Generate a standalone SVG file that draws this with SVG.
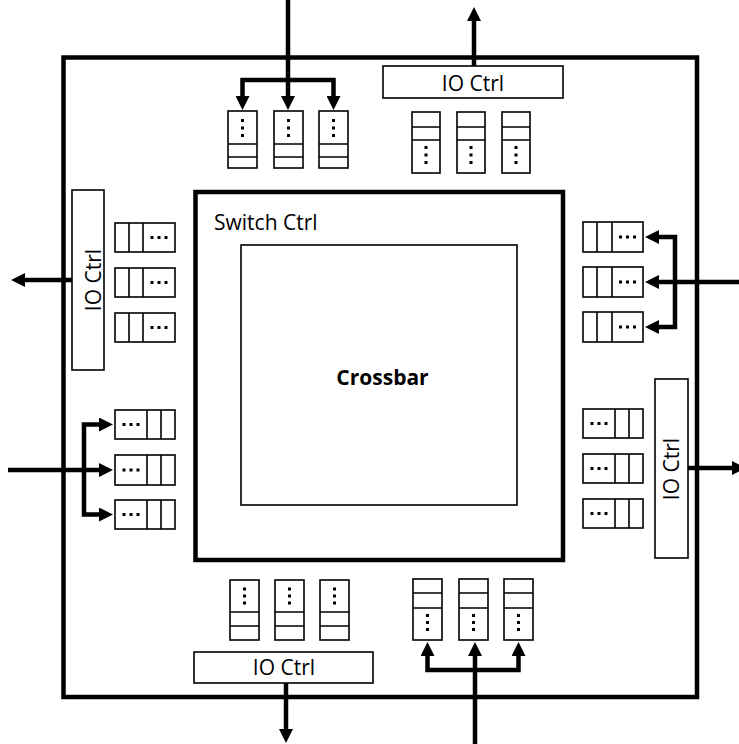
<svg xmlns="http://www.w3.org/2000/svg" width="739" height="744" viewBox="0 0 739 744">
<style>
.frame{fill:none;stroke:#000;stroke-width:4.5}
.box{fill:#fff;stroke:#000;stroke-width:1.6}
.cell{stroke:#000;stroke-width:1.6}
.dot{fill:#000}
.wire{fill:none;stroke:#000;stroke-width:4.5;stroke-linejoin:miter;marker-end:url(#ah)}
.lbl{font-family:"Open Sans","Noto Sans",sans-serif;font-size:21px;fill:#000}
.bold{font-family:"Open Sans","Noto Sans",sans-serif;font-size:21px;font-weight:bold;fill:#000}
</style>
<defs>
<marker id="ah" markerUnits="userSpaceOnUse" viewBox="0 0 14 14" refX="5" refY="7" markerWidth="14" markerHeight="14" orient="auto">
<path d="M0,0 L14,7 L0,14 z" fill="#000"/>
</marker>
</defs>
<rect width="739" height="744" fill="#fff"/>
<g id="chip"><rect class="frame" x="63.5" y="57.5" width="633.5" height="639.5"/></g>
<g id="switch-ctrl">
<rect class="frame" x="195.5" y="192" width="367.5" height="368"/>
<text class="lbl" x="214" y="230">Switch Ctrl</text>
</g>
<g id="crossbar">
<rect class="box" x="241" y="245" width="276" height="260" fill="none"/>
<text class="bold" x="382.5" y="385" text-anchor="middle">Crossbar</text>
</g>
<g id="io-top"><rect class="box" x="383" y="66" width="180" height="32"/><text class="lbl" x="473" y="90.5" text-anchor="middle">IO Ctrl</text></g>
<g id="io-bottom"><rect class="box" x="194" y="652" width="179" height="31"/><text class="lbl" x="284" y="675" text-anchor="middle">IO Ctrl</text></g>
<g id="io-left"><rect class="box" x="72" y="190" width="32" height="180"/><text class="lbl" transform="translate(101,280) rotate(-90)" text-anchor="middle">IO Ctrl</text></g>
<g id="io-right"><rect class="box" x="655" y="379" width="33" height="179"/><text class="lbl" transform="translate(679,469) rotate(-90)" text-anchor="middle">IO Ctrl</text></g>

<!-- top-left buffers -->
<g id="buf-tl-1"><rect class="box" x="228" y="111" width="29" height="57"/><path class="cell" d="M228,144H257M228,157H257"/><g class="dot"><rect x="241" y="119" width="3" height="3"/><rect x="241" y="126.5" width="3" height="3"/><rect x="241" y="134" width="3" height="3"/></g></g>
<g id="buf-tl-2"><rect class="box" x="274" y="111" width="29" height="57"/><path class="cell" d="M274,144H303M274,157H303"/><g class="dot"><rect x="287" y="119" width="3" height="3"/><rect x="287" y="126.5" width="3" height="3"/><rect x="287" y="134" width="3" height="3"/></g></g>
<g id="buf-tl-3"><rect class="box" x="319" y="111" width="29" height="57"/><path class="cell" d="M319,144H348M319,157H348"/><g class="dot"><rect x="332" y="119" width="3" height="3"/><rect x="332" y="126.5" width="3" height="3"/><rect x="332" y="134" width="3" height="3"/></g></g>

<!-- top-right buffers -->
<g id="buf-tr-1"><rect class="box" x="412" y="112" width="28" height="61"/><path class="cell" d="M412,127H440M412,140H440"/><g class="dot"><rect x="424.5" y="146" width="3" height="3"/><rect x="424.5" y="153.5" width="3" height="3"/><rect x="424.5" y="161" width="3" height="3"/></g></g>
<g id="buf-tr-2"><rect class="box" x="457" y="112" width="28" height="61"/><path class="cell" d="M457,127H485M457,140H485"/><g class="dot"><rect x="469.5" y="146" width="3" height="3"/><rect x="469.5" y="153.5" width="3" height="3"/><rect x="469.5" y="161" width="3" height="3"/></g></g>
<g id="buf-tr-3"><rect class="box" x="502" y="112" width="28" height="61"/><path class="cell" d="M502,127H530M502,140H530"/><g class="dot"><rect x="514.5" y="146" width="3" height="3"/><rect x="514.5" y="153.5" width="3" height="3"/><rect x="514.5" y="161" width="3" height="3"/></g></g>

<!-- bottom-left buffers -->
<g id="buf-bl-1"><rect class="box" x="230" y="580" width="29" height="60"/><path class="cell" d="M230,612H259M230,626H259"/><g class="dot"><rect x="243" y="587.5" width="3" height="3"/><rect x="243" y="594.5" width="3" height="3"/><rect x="243" y="601.5" width="3" height="3"/></g></g>
<g id="buf-bl-2"><rect class="box" x="275" y="580" width="29" height="60"/><path class="cell" d="M275,612H304M275,626H304"/><g class="dot"><rect x="288" y="587.5" width="3" height="3"/><rect x="288" y="594.5" width="3" height="3"/><rect x="288" y="601.5" width="3" height="3"/></g></g>
<g id="buf-bl-3"><rect class="box" x="320" y="580" width="29" height="60"/><path class="cell" d="M320,612H349M320,626H349"/><g class="dot"><rect x="333" y="587.5" width="3" height="3"/><rect x="333" y="594.5" width="3" height="3"/><rect x="333" y="601.5" width="3" height="3"/></g></g>

<!-- bottom-right buffers -->
<g id="buf-br-1"><rect class="box" x="413" y="579" width="29" height="61"/><path class="cell" d="M413,593H442M413,608H442"/><g class="dot"><rect x="426" y="614" width="3" height="3"/><rect x="426" y="621" width="3" height="3"/><rect x="426" y="628" width="3" height="3"/></g></g>
<g id="buf-br-2"><rect class="box" x="459" y="579" width="29" height="61"/><path class="cell" d="M459,593H488M459,608H488"/><g class="dot"><rect x="472" y="614" width="3" height="3"/><rect x="472" y="621" width="3" height="3"/><rect x="472" y="628" width="3" height="3"/></g></g>
<g id="buf-br-3"><rect class="box" x="504" y="579" width="29" height="61"/><path class="cell" d="M504,593H533M504,608H533"/><g class="dot"><rect x="517" y="614" width="3" height="3"/><rect x="517" y="621" width="3" height="3"/><rect x="517" y="628" width="3" height="3"/></g></g>

<!-- left upper buffers (dots right) -->
<g id="buf-lu-1"><rect class="box" x="115" y="223" width="60" height="29"/><path class="cell" d="M129,223V252M143,223V252"/><g class="dot"><rect x="150.5" y="236" width="3" height="3"/><rect x="157.5" y="236" width="3" height="3"/><rect x="164.5" y="236" width="3" height="3"/></g></g>
<g id="buf-lu-2"><rect class="box" x="115" y="268" width="60" height="29"/><path class="cell" d="M129,268V297M143,268V297"/><g class="dot"><rect x="150.5" y="281" width="3" height="3"/><rect x="157.5" y="281" width="3" height="3"/><rect x="164.5" y="281" width="3" height="3"/></g></g>
<g id="buf-lu-3"><rect class="box" x="115" y="313" width="60" height="29"/><path class="cell" d="M129,313V342M143,313V342"/><g class="dot"><rect x="150.5" y="326" width="3" height="3"/><rect x="157.5" y="326" width="3" height="3"/><rect x="164.5" y="326" width="3" height="3"/></g></g>

<!-- left lower buffers (dots left) -->
<g id="buf-ll-1"><rect class="box" x="115" y="410" width="60" height="29"/><path class="cell" d="M147,410V439M161,410V439"/><g class="dot"><rect x="122.5" y="423" width="3" height="3"/><rect x="129.5" y="423" width="3" height="3"/><rect x="136.5" y="423" width="3" height="3"/></g></g>
<g id="buf-ll-2"><rect class="box" x="115" y="455" width="60" height="30"/><path class="cell" d="M147,455V485M161,455V485"/><g class="dot"><rect x="122.5" y="468.5" width="3" height="3"/><rect x="129.5" y="468.5" width="3" height="3"/><rect x="136.5" y="468.5" width="3" height="3"/></g></g>
<g id="buf-ll-3"><rect class="box" x="115" y="500" width="60" height="29"/><path class="cell" d="M147,500V529M161,500V529"/><g class="dot"><rect x="122.5" y="513" width="3" height="3"/><rect x="129.5" y="513" width="3" height="3"/><rect x="136.5" y="513" width="3" height="3"/></g></g>

<!-- right upper buffers (dots right) -->
<g id="buf-ru-1"><rect class="box" x="583" y="222" width="60" height="30"/><path class="cell" d="M597,222V252M612,222V252"/><g class="dot"><rect x="619" y="235.5" width="3" height="3"/><rect x="626" y="235.5" width="3" height="3"/><rect x="633" y="235.5" width="3" height="3"/></g></g>
<g id="buf-ru-2"><rect class="box" x="583" y="267" width="60" height="30"/><path class="cell" d="M597,267V297M612,267V297"/><g class="dot"><rect x="619" y="280.5" width="3" height="3"/><rect x="626" y="280.5" width="3" height="3"/><rect x="633" y="280.5" width="3" height="3"/></g></g>
<g id="buf-ru-3"><rect class="box" x="583" y="312" width="60" height="30"/><path class="cell" d="M597,312V342M612,312V342"/><g class="dot"><rect x="619" y="325.5" width="3" height="3"/><rect x="626" y="325.5" width="3" height="3"/><rect x="633" y="325.5" width="3" height="3"/></g></g>

<!-- right lower buffers (dots left) -->
<g id="buf-rl-1"><rect class="box" x="583" y="409" width="60" height="29"/><path class="cell" d="M615,409V438M629,409V438"/><g class="dot"><rect x="590.5" y="422" width="3" height="3"/><rect x="597.5" y="422" width="3" height="3"/><rect x="604.5" y="422" width="3" height="3"/></g></g>
<g id="buf-rl-2"><rect class="box" x="583" y="454" width="60" height="29"/><path class="cell" d="M615,454V483M629,454V483"/><g class="dot"><rect x="590.5" y="467" width="3" height="3"/><rect x="597.5" y="467" width="3" height="3"/><rect x="604.5" y="467" width="3" height="3"/></g></g>
<g id="buf-rl-3"><rect class="box" x="583" y="499" width="60" height="29"/><path class="cell" d="M615,499V528M629,499V528"/><g class="dot"><rect x="590.5" y="512" width="3" height="3"/><rect x="597.5" y="512" width="3" height="3"/><rect x="604.5" y="512" width="3" height="3"/></g></g>

<g id="connectors">
<path class="wire" d="M288,0V101"/>
<path class="wire" d="M288,80H242.5V101"/>
<path class="wire" d="M288,80H333.5V101"/>
<path class="wire" d="M474,66V16"/>
<path class="wire" d="M72,280H20"/>
<path class="wire" d="M739,282H654"/>
<path class="wire" d="M675,282V237H654"/>
<path class="wire" d="M675,282V327H654"/>
<path class="wire" d="M8,470H104"/>
<path class="wire" d="M84,470V424.5H104"/>
<path class="wire" d="M84,470V514.5H104"/>
<path class="wire" d="M688,468H737"/>
<path class="wire" d="M286,683V734"/>
<path class="wire" d="M475,744V651"/>
<path class="wire" d="M475,670H427.5V651"/>
<path class="wire" d="M475,670H518.5V651"/>
</g>
</svg>
